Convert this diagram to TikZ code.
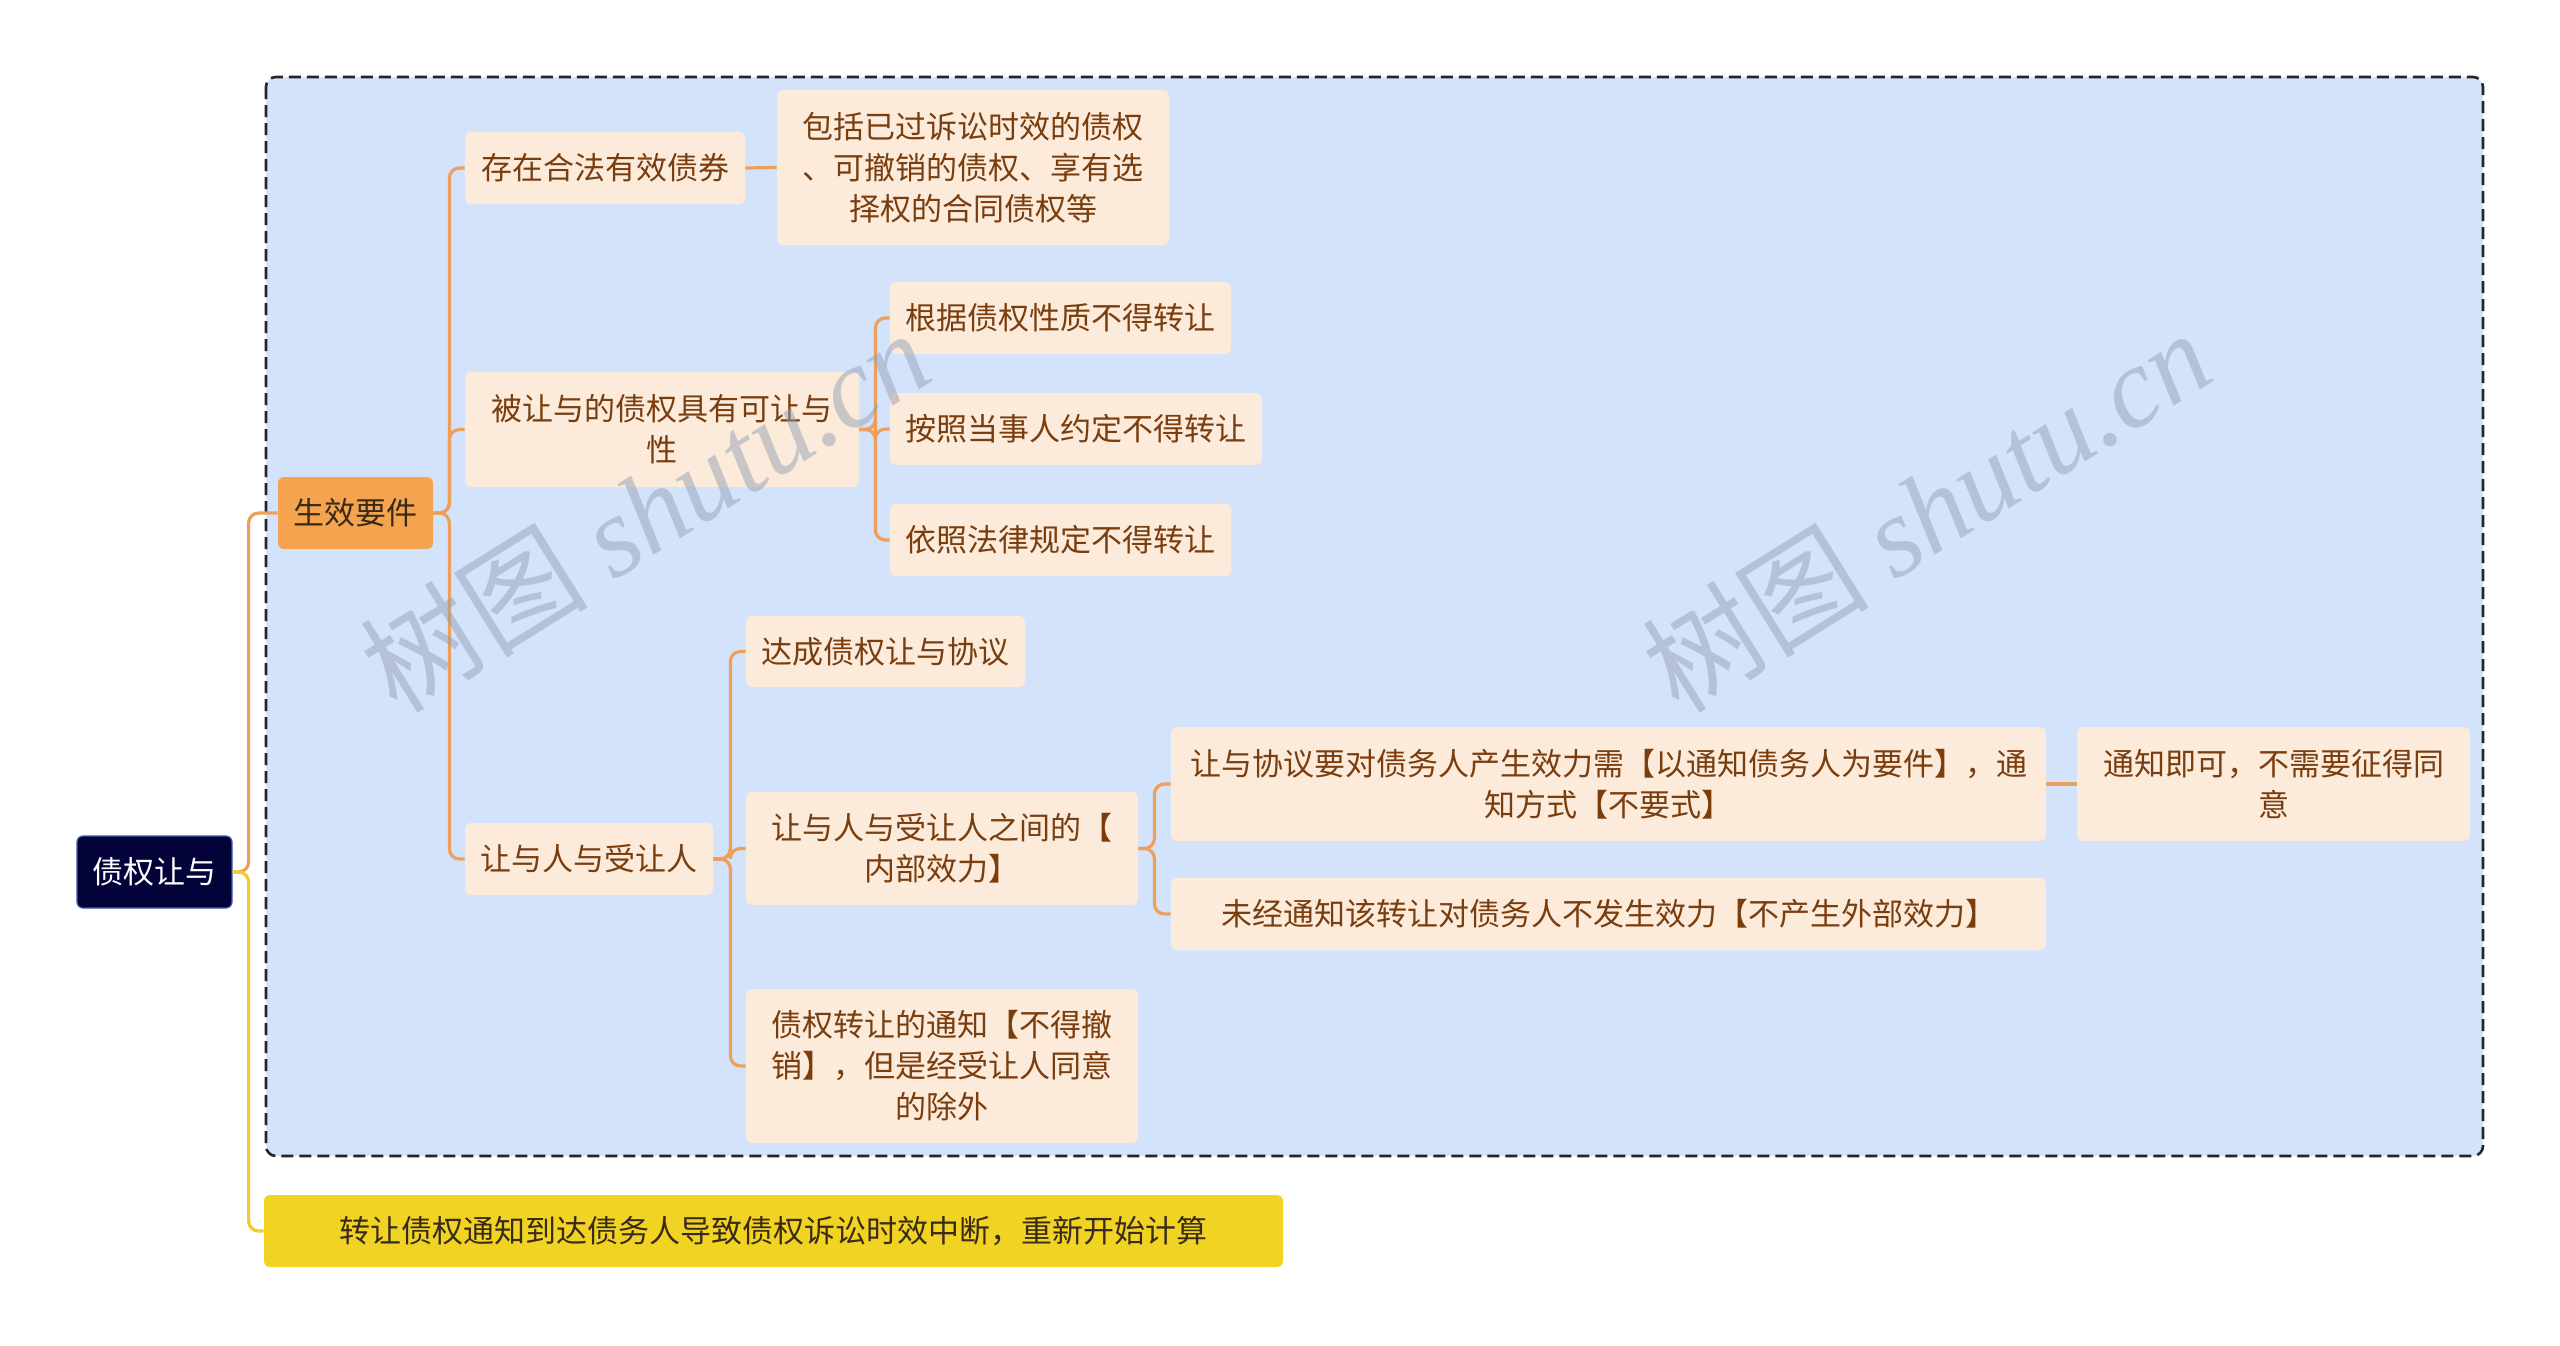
\documentclass[tikz,border=0pt]{standalone}
\usepackage{fontspec}
\setmainfont{Noto Sans CJK SC}
\newfontfamily\wmlat{Liberation Serif}
\usetikzlibrary{calc}
\definecolor{bgblue}{HTML}{D3E3FB}
\definecolor{peach}{HTML}{FCEBDB}
\definecolor{txtbrown}{HTML}{7A3D0E}
\definecolor{lineor}{HTML}{EE9F5A}
\definecolor{navy}{HTML}{03033A}
\definecolor{navyborder}{HTML}{3A5BB0}
\definecolor{orangebox}{HTML}{F4A34F}
\definecolor{yel}{HTML}{F1D423}
\definecolor{yline}{HTML}{F0CE2A}
\definecolor{darktxt}{HTML}{3A2A18}
\definecolor{wmgray}{RGB}{150,160,180}
\tikzset{
  box/.style={rounded corners=3pt, fill=peach, text=txtbrown, align=center, inner sep=0pt,
              font=\fontsize{15.5}{20.5}\selectfont},
  rootbox/.style={box, fill=navy, draw=navyborder, line width=0.6pt, text=white},
  mainbox/.style={box, fill=orangebox, text=darktxt},
  notebox/.style={box, fill=yel, text=darktxt},
  conn/.style={draw=lineor, line width=1.6pt, rounded corners=5pt},
  yconn/.style={conn, draw=yline},
  region/.style={fill=bgblue, draw=black!85, line width=1.3pt, dash pattern=on 6pt off 3pt, rounded corners=5pt},
  wmark/.style={text=wmgray, text opacity=0.5, font=\fontsize{57}{60}\selectfont, rotate=32, inner sep=0pt},
}
\newcommand\mybox[7]{\node[#1, minimum width={(#5-#3)*0.5pt}, minimum height={(#6-#4)*0.5pt}] (#2) at ({(#3+#5)/2},{(#4+#6)/2}) {#7};}
\begin{document}
\begin{tikzpicture}[x=0.5pt,y=-0.5pt]
\useasboundingbox[fill=white] (0,0) rectangle (2560,1345);
\path[region] (266,77) rectangle (2483,1156);

\mybox{rootbox}{root}{77}{836}{232}{908}{债权让与}
\mybox{mainbox}{gx}{278}{477}{433}{549}{生效要件}
\mybox{box}{cz}{465}{132}{745}{204}{存在合法有效债券}
\mybox{box}{bk}{777}{90}{1169}{245}{包括已过诉讼时效的债权\\、可撤销的债权、享有选\\择权的合同债权等}
\mybox{box}{bry}{465}{372}{859}{487}{被让与的债权具有可让与\\性}
\mybox{box}{gj}{890}{282}{1231}{354}{根据债权性质不得转让}
\mybox{box}{az}{890}{393}{1262}{465}{按照当事人约定不得转让}
\mybox{box}{yz}{890}{504}{1231}{576}{依照法律规定不得转让}
\mybox{box}{rr}{465}{823}{713}{895}{让与人与受让人}
\mybox{box}{dc}{746}{616}{1025}{687}{达成债权让与协议}
\mybox{box}{nb}{746}{792}{1138}{905}{让与人与受让人之间的【\\内部效力】}
\mybox{box}{tz}{746}{989}{1138}{1143}{债权转让的通知【不得撤\\销】，但是经受让人同意\\的除外}
\mybox{box}{xy}{1171}{727}{2046}{841}{让与协议要对债务人产生效力需【以通知债务人为要件】，通\\知方式【不要式】}
\mybox{box}{wj}{1171}{878}{2046}{950}{未经通知该转让对债务人不发生效力【不产生外部效力】}
\mybox{box}{tk}{2077}{727}{2470}{841}{通知即可，不需要征得同\\意}
\mybox{notebox}{note}{264}{1195}{1283}{1267}{转让债权通知到达债务人导致债权诉讼时效中断，重新开始计算}

\draw[conn] (root.east) -- ++(16,0) |- (gx.west);
\draw[yconn] (root.east) -- ++(16,0) |- (note.west);
\draw[conn] (gx.east) -- ++(16,0) |- (cz.west);
\draw[conn] (gx.east) -- ++(16,0) |- (bry.west);
\draw[conn] (gx.east) -- ++(16,0) |- (rr.west);
\draw[conn] (cz.east) -- (bk.west);
\draw[conn] (bry.east) -- ++(16,0) |- (gj.west);
\draw[conn] (bry.east) -- ++(16,0) |- (az.west);
\draw[conn] (bry.east) -- ++(16,0) |- (yz.west);
\draw[conn] (rr.east) -- ++(17,0) |- (dc.west);
\draw[conn] (rr.east) -- ++(17,0) |- (nb.west);
\draw[conn] (rr.east) -- ++(17,0) |- (tz.west);
\draw[conn] (nb.east) -- ++(16,0) |- (xy.west);
\draw[conn] (nb.east) -- ++(16,0) |- (wj.west);
\draw[conn] (xy.east) -- (tk.west);

\node[wmark] (wm1) at (645,510) {树图 {\wmlat\itshape shutu.cn}};
\node[wmark] (wm2) at (1926,510) {树图 {\wmlat\itshape shutu.cn}};
\end{tikzpicture}
\end{document}
